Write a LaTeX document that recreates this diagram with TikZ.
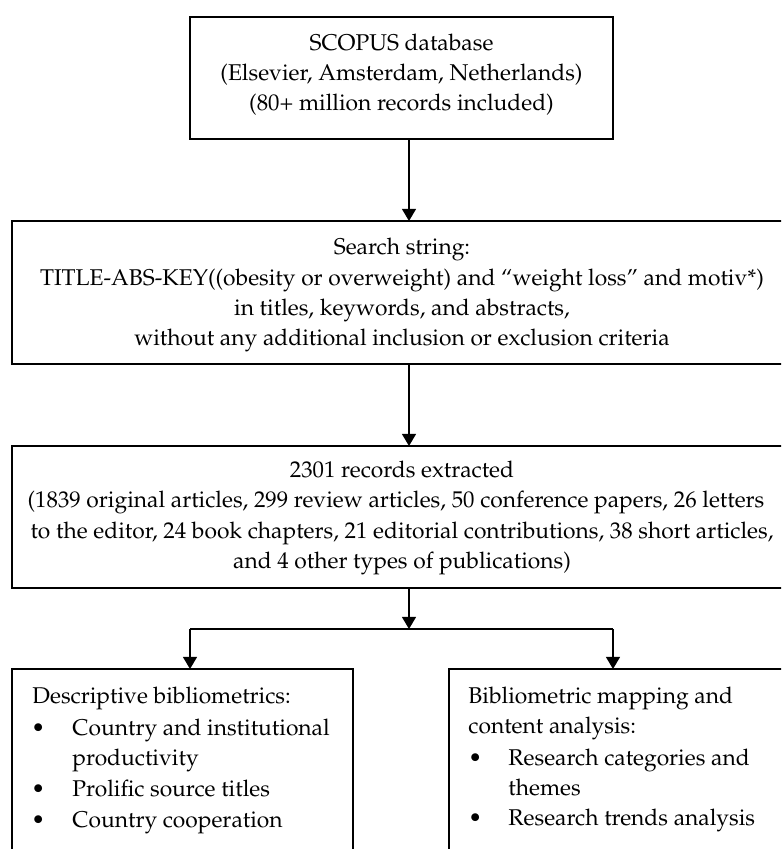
\documentclass[tikz,border=0pt]{standalone}
\usepackage[T1]{fontenc}
\renewcommand{\rmdefault}{ppl}
\usetikzlibrary{arrows.meta}
\begin{document}
\begin{tikzpicture}[x=0.43pt,y=-0.43pt,
  box/.style={draw, line width=0.6pt, inner sep=0pt, outer sep=0pt},
  txt/.style={inner sep=0pt, anchor=base, font=\fontsize{9.8}{12}\selectfont},
  ltxt/.style={inner sep=0pt, anchor=base west, font=\fontsize{9.8}{12}\selectfont},
  arr/.style={line width=0.6pt, -{Triangle[length=5.2pt,width=6pt]}},
  link/.style={line width=0.6pt}]
\useasboundingbox (0,0) rectangle (781,849);
\clip (0,0) rectangle (781,849);

% boxes
\node[box, minimum width=423*0.43pt, minimum height=122*0.43pt] (b1) at (401.5,78) {};
\node[box, minimum width=794*0.43pt, minimum height=143*0.43pt] (b2) at (409,292.5) {};
\node[box, minimum width=794*0.43pt, minimum height=142*0.43pt] (b3) at (409,517) {};
\node[box, minimum width=341*0.43pt, minimum height=231*0.43pt] (b4) at (182.5,784.5) {};
\node[box, minimum width=371*0.43pt, minimum height=231*0.43pt] (b5) at (634.5,784.5) {};

% box 1 text
\node[txt] (t1a) at (401.5,50) {SCOPUS database};
\node[txt] (t1b) at (401.5,80) {(Elsevier, Amsterdam, Netherlands)};
\node[txt] (t1c) at (401.5,110) {(80+ million records included)};

% box 2 text
\node[txt] (t2a) at (402,254) {Search string:};
\node[txt] (t2b) at (402,285) {TITLE-ABS-KEY((obesity or overweight) and ``weight loss'' and motiv*)};
\node[txt] (t2c) at (402,315) {in titles, keywords, and abstracts,};
\node[txt] (t2d) at (402,345) {without any additional inclusion or exclusion criteria};

% box 3 text
\node[txt] (t3a) at (402,477) {2301 records extracted};
\node[txt] (t3b) at (396,507) {(1839 original articles, 299 review articles, 50 conference papers, 26 letters};
\node[txt] (t3c) at (402,538) {to the editor, 24 book chapters, 21 editorial contributions, 38 short articles,};
\node[txt] (t3d) at (402,568) {and 4 other types of publications)};

% box 4 text
\node[ltxt] (t4a) at (32,703) {Descriptive bibliometrics:};
\node[ltxt] (u4a) at (31,735) {\textbullet};
\node[ltxt] (t4b) at (72,735) {Country and institutional};
\node[ltxt] (t4c) at (72,765) {productivity};
\node[ltxt] (u4b) at (31,796) {\textbullet};
\node[ltxt] (t4d) at (72,796) {Prolific source titles};
\node[ltxt] (u4c) at (31,827) {\textbullet};
\node[ltxt] (t4e) at (72,827) {Country cooperation};

% box 5 text
\node[ltxt] (t5a) at (468,703) {Bibliometric mapping and};
\node[ltxt] (t5b) at (468,733) {content analysis:};
\node[ltxt] (u5a) at (468,765) {\textbullet};
\node[ltxt] (t5c) at (508,765) {Research categories and};
\node[ltxt] (t5d) at (508,795) {themes};
\node[ltxt] (u5b) at (468,825) {\textbullet};
\node[ltxt] (t5e) at (508,825) {Research trends analysis};

% connectors
\coordinate (ax) at (409,0);
\coordinate (split) at (409,629);
\coordinate (sl) at (190,629);
\coordinate (sr) at (613,629);
\draw[arr] (b1.south -| ax) -- (b2.north -| ax);
\draw[arr] (b2.south -| ax) -- (b3.north -| ax);
\draw[arr] (b3.south -| ax) -- (split);
\draw[link] (sl) -- (sr);
\draw[arr] (sl) -- (b4.north -| sl);
\draw[arr] (sr) -- (b5.north -| sr);
\end{tikzpicture}
\end{document}
